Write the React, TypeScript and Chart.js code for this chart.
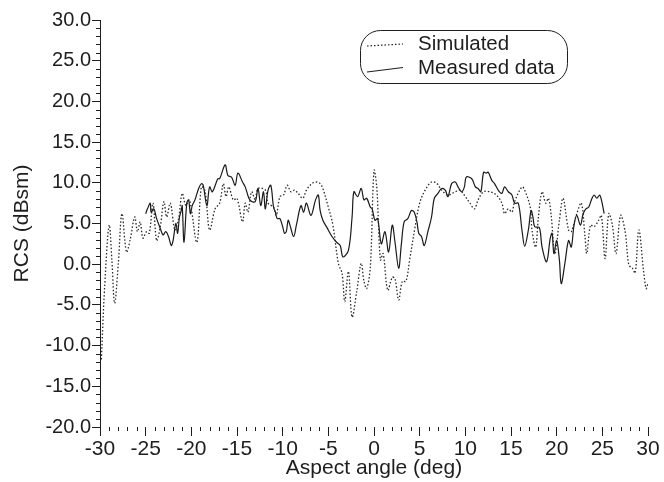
import React, { useEffect, useRef } from 'react';
import { Chart, registerables } from 'chart.js';

Chart.register(...registerables);

// ---- Data ----
const simAngles = [
  -29.85, -29.5, -29.0, -28.7, -28.4, -28.0, -27.6, -27.1, -26.7, -26.2, -25.9, -25.6, -25.3, -24.9, -24.6,
  -24.2, -23.8, -23.4, -23.0, -22.7, -22.3, -21.8, -21.4, -21.0, -20.6, -20.2, -19.4, -18.9, -18.5, -18.0,
  -17.4, -16.9, -16.5, -16.2, -15.9, -15.4, -15.0, -14.4, -14.1, -13.8, -13.4, -13.0, -12.7, -11.9, -11.6,
  -11.0, -10.7, -10.3, -9.9, -9.5, -9.1, -8.7, -8.3, -7.8, -7.4, -6.8, -6.3, -5.9, -5.6, -5.0,
  -4.5, -3.9, -3.5, -3.2, -2.8, -2.4, -1.9, -1.4, -1.1, -0.8, -0.4, 0.0, 0.3, 0.7, 1.0,
  1.5, 2.0, 2.3, 2.7, 3.1, 3.5, 3.9, 4.5, 5.0, 5.6, 6.3, 6.9, 7.4, 8.1, 8.9,
  9.4, 10.0, 10.5, 11.0, 11.4, 12.0, 12.7, 13.4, 14.0, 14.3, 14.7, 15.1, 15.4, 16.2, 16.5,
  17.1, 17.3, 17.7, 18.0, 18.4, 18.8, 19.1, 19.4, 19.8, 20.3, 20.7, 21.3, 21.6, 22.2, 22.7,
  23.1, 23.3, 23.7, 24.1, 24.6, 24.9, 25.3, 25.7, 26.1, 26.5, 27.0, 27.5, 27.9, 28.3, 28.6,
  29.0, 29.5, 29.8, 30.0,
];
const simValues = [
  -11.7, -3.0, 4.8, 0.5, -4.8, 0.0, 6.2, 1.5, 3.0, 5.8, 4.0, 5.2, 3.2, 4.0, 3.8,
  7.5, 2.9, 4.6, 7.7, 5.8, 7.5, 4.2, 5.6, 8.7, 7.2, 7.9, 2.7, 9.5, 9.0, 4.2,
  6.8, 7.5, 9.9, 8.3, 9.5, 7.9, 8.1, 5.2, 7.5, 6.4, 8.9, 7.9, 9.3, 9.1, 7.5,
  7.0, 6.0, 8.3, 8.5, 9.7, 8.9, 9.1, 8.7, 8.1, 9.1, 9.9, 10.1, 9.9, 9.3, 7.0,
  4.8, 0.1, -1.1, -4.6, -0.9, -6.5, -3.4, 0.1, -2.1, -3.0, -0.3, 11.5, 9.5, 0.5, 1.3,
  -3.2, -1.6, -1.8, -4.4, -2.1, -2.1, 0.5, 4.6, 7.5, 9.1, 10.1, 9.9, 9.1, 8.5, 8.9,
  9.1, 8.3, 7.5, 6.8, 7.9, 8.9, 8.9, 8.5, 7.5, 6.2, 6.8, 6.4, 7.7, 9.5, 9.1,
  7.0, 4.2, 2.1, 5.8, 8.9, 7.5, 8.1, 6.0, 1.3, 5.4, 8.1, 4.2, 4.0, 6.2, 7.5,
  3.4, 1.3, 4.8, 4.6, 5.4, 6.0, 0.7, 6.2, 4.8, 1.3, 6.0, 4.0, -0.1, -0.5, -1.1,
  4.2, -0.7, -3.0, -2.4,
];

const measAngles = [
  -25.0, -24.8, -24.5, -24.4, -24.1, -23.8, -23.4, -23.1, -22.8, -22.5, -22.2, -22.0, -21.7, -21.5, -21.3,
  -21.1, -21.0, -20.8, -20.5, -20.3, -20.1, -19.9, -19.6, -19.2, -18.9, -18.7, -18.3, -18.0, -17.7, -17.1,
  -16.9, -16.3, -16.0, -15.6, -15.2, -14.9, -14.4, -14.1, -13.7, -13.4, -13.0, -12.7, -12.4, -12.1, -11.9,
  -11.6, -11.3, -11.0, -10.8, -10.6, -10.3, -10.0, -9.8, -9.6, -9.4, -9.2, -8.8, -8.5, -8.0, -7.7,
  -7.4, -6.9, -6.4, -6.1, -5.9, -5.6, -5.1, -4.6, -4.1, -3.7, -3.4, -2.8, -2.4, -2.2, -1.8,
  -1.4, -1.1, -0.8, -0.4, -0.2, 0.1, 0.4, 0.8, 1.2, 1.6, 2.0, 2.3, 2.7, 3.0, 3.3,
  3.7, 4.1, 4.4, 4.7, 4.9, 5.2, 5.5, 5.9, 6.3, 6.6, 7.0, 7.4, 7.8, 8.1, 8.5,
  8.9, 9.2, 9.6, 9.9, 10.1, 10.7, 11.1, 11.4, 11.7, 12.0, 12.3, 12.5, 12.9, 13.2, 13.6,
  14.0, 14.3, 14.7, 15.1, 15.4, 15.8, 16.2, 16.5, 16.9, 17.2, 17.4, 17.6, 18.1, 18.4, 18.9,
  19.3, 19.5, 19.7, 20.0, 20.3, 20.5, 20.9, 21.3, 21.6, 21.9, 22.2, 22.6, 22.9, 23.2, 23.5,
  23.8, 24.1, 24.4, 24.7, 24.9, 25.2,
];
const measValues = [
  6.2, 6.8, 7.5, 6.4, 6.8, 5.6, 4.4, 3.6, 4.0, 3.4, 2.3, 2.9, 5.0, 3.8, 5.8,
  6.6, 7.2, 2.7, 7.5, 7.9, 6.2, 7.2, 7.9, 9.3, 9.9, 9.7, 7.2, 9.5, 8.9, 10.5,
  10.5, 12.2, 10.9, 10.7, 9.7, 11.2, 10.1, 9.5, 8.1, 7.7, 7.7, 9.3, 7.2, 8.9, 6.8,
  9.1, 9.7, 7.0, 6.4, 5.6, 5.6, 4.6, 3.8, 4.0, 5.4, 4.8, 3.4, 4.8, 7.2, 6.4,
  7.5, 6.0, 7.9, 8.5, 6.6, 5.4, 4.4, 3.4, 2.7, 2.3, 0.9, 1.7, 5.8, 8.9, 8.3,
  9.3, 7.9, 8.1, 7.0, 6.8, 5.4, 5.6, 2.5, 4.0, 1.5, 4.8, 2.7, -0.5, 2.5, 5.2,
  5.6, 6.6, 6.4, 5.2, 3.8, 3.4, 2.3, 4.0, 5.8, 8.1, 8.7, 9.3, 9.1, 8.3, 9.9,
  10.1, 9.5, 8.9, 9.5, 10.7, 10.5, 9.5, 9.3, 8.9, 11.3, 11.2, 11.3, 10.3, 9.9, 9.1,
  8.7, 9.5, 8.9, 8.5, 7.5, 7.5, 4.2, 2.2, 4.2, 6.6, 5.8, 4.6, 4.5, 2.1, 0.3,
  3.2, 3.8, 1.3, 2.9, 0.5, -2.4, 0.1, 2.9, 2.1, 4.8, 6.0, 4.8, 6.2, 6.8, 7.0,
  7.9, 8.5, 8.1, 8.5, 7.9, 6.2,
];

const seriesLabels = ['Simulated', 'Measured data'];
const xTitle = 'Aspect angle (deg)';
const yTitle = 'RCS (dBsm)';
const xMin = -30, xMax = 30, xStep = 5;
const yMin = -20, yMax = 30, yStep = 5;

// ---- Styles ----
const FONT = '"Liberation Sans", Arial, Helvetica, sans-serif';
const INK = '#1e1e1e';

const minorTicks = {
  id: 'minorTicks',
  afterDraw(chart: any) {
    const { ctx, chartArea, scales } = chart;
    const xs = scales.x, ys = scales.y;
    ctx.save();
    ctx.strokeStyle = INK;
    ctx.lineWidth = 1;
    ctx.beginPath();
    for (let v = yMin; v <= yMax; v++) {
      if (v % yStep === 0) continue;
      const py = Math.round(ys.getPixelForValue(v)) + 0.5;
      ctx.moveTo(chartArea.left - 4, py);
      ctx.lineTo(chartArea.left, py);
    }
    for (let v = xMin; v <= xMax; v++) {
      if (v % xStep === 0) continue;
      const px = Math.round(xs.getPixelForValue(v)) + 0.5;
      ctx.moveTo(px, chartArea.bottom);
      ctx.lineTo(px, chartArea.bottom + 4);
    }
    ctx.stroke();
    ctx.restore();
  },
};

const boxLegend = {
  id: 'boxLegend',
  afterDraw(chart: any) {
    const { ctx } = chart;
    const ds = chart.data.datasets;
    ctx.save();
    ctx.strokeStyle = INK;
    ctx.lineWidth = 1;
    ctx.beginPath();
    (ctx as any).roundRect(360.5, 30.5, 207, 53, 20);
    ctx.stroke();
    // samples
    ctx.lineWidth = 1.2;
    ctx.setLineDash([1.5, 2]);
    ctx.beginPath();
    ctx.moveTo(367, 46);
    ctx.lineTo(403, 44);
    ctx.stroke();
    ctx.setLineDash([]);
    ctx.beginPath();
    ctx.moveTo(367, 72);
    ctx.lineTo(403, 67.5);
    ctx.stroke();
    ctx.fillStyle = INK;
    ctx.font = `20.5px ${FONT}`;
    ctx.textBaseline = 'middle';
    ctx.textAlign = 'left';
    ctx.fillText(ds[0].label, 418, 44);
    ctx.fillText(ds[1].label, 418, 68);
    ctx.restore();
  },
};

export default function App() {
  const ref = useRef<HTMLCanvasElement | null>(null);
  useEffect(() => {
    if (!ref.current) return;
    const simData = simAngles.map((a, i) => ({ x: a, y: simValues[i] }));
    const measData = measAngles.map((a, i) => ({ x: a, y: measValues[i] }));
    const chart = new Chart(ref.current, {
      type: 'line',
      data: {
        datasets: [
          {
            label: seriesLabels[0],
            data: simData,
            borderColor: '#2a2a2a',
            borderWidth: 1.3,
            borderDash: [1.5, 2],
            pointRadius: 0,
            tension: 0.35,
            fill: false,
          },
          {
            label: seriesLabels[1],
            data: measData,
            borderColor: '#1a1a1a',
            borderWidth: 1.2,
            pointRadius: 0,
            tension: 0.35,
            fill: false,
          },
        ],
      },
      options: {
        animation: false,
        responsive: false,
        devicePixelRatio: 1,
        layout: { padding: { top: 20, right: 16, left: 0, bottom: 0 } },
        plugins: { legend: { display: false }, tooltip: { enabled: false } },
        scales: {
          x: {
            type: 'linear',
            min: xMin,
            max: xMax,
            border: { display: false },
            grid: { display: true, drawOnChartArea: false, drawTicks: true, tickLength: 9, color: INK, tickColor: INK },
            ticks: {
              stepSize: xStep,
              color: INK,
              font: { family: FONT, size: 21 },
              padding: 1,
              maxRotation: 0,
              autoSkip: false,
              callback: (v: any) => String(v),
            },
            title: { display: true, text: xTitle, color: INK, font: { family: FONT, size: 21 }, padding: { top: 0, bottom: 1 } },
            afterFit: (s: any) => {
              s.height = 55;
              s.paddingLeft = 0; s.paddingRight = 0; s.paddingTop = 0; s.paddingBottom = 0;
            },
          },
          y: {
            type: 'linear',
            min: yMin,
            max: yMax,
            border: { display: true, color: INK, width: 1 },
            grid: { display: true, drawOnChartArea: false, drawTicks: true, tickLength: 8, color: INK, tickColor: INK },
            ticks: {
              stepSize: yStep,
              color: INK,
              font: { family: FONT, size: 20 },
              padding: 1,
              autoSkip: false,
              callback: (v: any) => Number(v).toFixed(1),
            },
            title: { display: true, text: yTitle, color: INK, font: { family: FONT, size: 21 }, padding: { top: 10, bottom: 0 } },
            afterFit: (s: any) => {
              s.width = 100;
              s.paddingLeft = 0; s.paddingRight = 0; s.paddingTop = 0; s.paddingBottom = 0;
            },
          },
        },
      },
      plugins: [minorTicks, boxLegend],
    });
    return () => chart.destroy();
  }, []);
  return (
    <div style={{ position: 'fixed', left: 0, top: 0, width: 664, height: 482, background: '#fff' }}>
      <canvas ref={ref} width={664} height={482} />
    </div>
  );
}
